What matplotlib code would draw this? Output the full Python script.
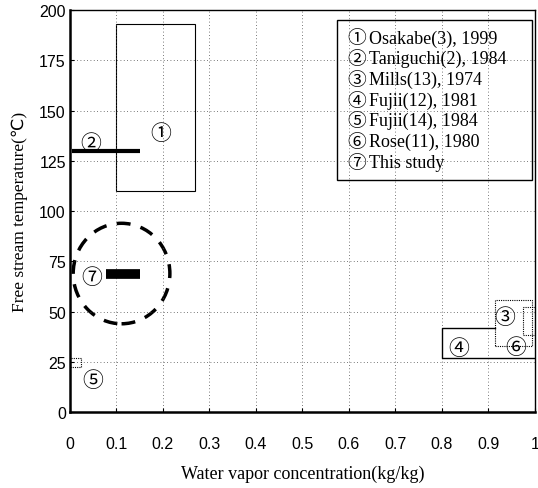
import matplotlib.pyplot as plt
from matplotlib.patches import Rectangle, Ellipse

# Regions (x0, x1, y0, y1)
osakabe_box = (0.10, 0.27, 110, 193)
mills_box = (0.915, 0.995, 33, 56)
rose_box = (0.975, 1.0, 38.5, 52.5)
fujii14_box = (0.0, 0.024, 22.5, 27)
fujii12_x = [1.0, 0.80, 0.80, 0.915]
fujii12_y = [27, 27, 42, 42]

# Taniguchi line and this study
taniguchi_x = [0.005, 0.15]
taniguchi_y = [130, 130]
study_x = [0.077, 0.15]
study_y = [69, 69]
study_circle = (0.111, 69, 0.104, 25)  # centre x, centre y, radius x, radius y

# Circled labels
label_text = ['①', '②', '③', '④', '⑤', '⑥', '⑦']
label_x = [0.195, 0.045, 0.935, 0.836, 0.05, 0.96, 0.047]
label_y = [139, 134, 47.5, 32, 16, 32.5, 67.5]

legend_marks = ['①', '②', '③', '④', '⑤', '⑥', '⑦']
legend_names = ['Osakabe(3), 1999', 'Taniguchi(2), 1984', 'Mills(13), 1974',
                'Fujii(12), 1981', 'Fujii(14), 1984', 'Rose(11), 1980',
                'This study']

xticks = [0, 0.1, 0.2, 0.3, 0.4, 0.5, 0.6, 0.7, 0.8, 0.9, 1]
xticklabels = ['0', '0.1', '0.2', '0.3', '0.4', '0.5', '0.6', '0.7', '0.8', '0.9', '1']
yticks = [0, 25, 50, 75, 100, 125, 150, 175, 200]

serif = ['Liberation Serif', 'DejaVu Sans']
circ = ['Noto Sans CJK JP', 'DejaVu Sans']

fig = plt.figure(figsize=(5.38, 4.89), dpi=100)
ax = fig.add_axes([0.130, 0.155, 0.864, 0.822])

ax.set_xlim(0, 1)
ax.set_ylim(0, 200)
ax.set_xticks(xticks)
ax.set_xticklabels(xticklabels, family='Liberation Sans', fontsize=11.5)
ax.set_yticks(yticks)
ax.set_yticklabels([str(v) for v in yticks], family='Liberation Sans', fontsize=11.5)
ax.tick_params(direction='in', length=3, width=0.8)
ax.tick_params(axis='x', pad=17)
ax.tick_params(axis='y', pad=3)
ax.grid(True, linestyle=(0, (1, 3)), color='0.3', linewidth=0.6)
for s in ax.spines.values():
    s.set_linewidth(1.0)
ax.spines['left'].set_linewidth(1.8)
ax.spines['bottom'].set_linewidth(1.8)

# solid and dotted boxes
x0, x1, y0, y1 = osakabe_box
ax.add_patch(Rectangle((x0, y0), x1 - x0, y1 - y0, fill=False, ec='black', lw=0.8))
for box in (mills_box, rose_box, fujii14_box):
    x0, x1, y0, y1 = box
    ax.add_patch(Rectangle((x0, y0), x1 - x0, y1 - y0, fill=False, ec='black',
                           lw=0.8, linestyle=(0, (1, 1))))
ax.plot(fujii12_x, fujii12_y, color='black', lw=1.0)

ax.plot(taniguchi_x, taniguchi_y, color='black', lw=3, solid_capstyle='butt')
ax.plot(study_x, study_y, color='black', lw=7, solid_capstyle='butt')
cx, cy, rx, ry = study_circle
ax.add_patch(Ellipse((cx, cy), 2 * rx, 2 * ry, fill=False, ec='black', lw=2.5,
                     linestyle=(0, (4, 3))))

for t, x, y in zip(label_text, label_x, label_y):
    ax.text(x, y, t, family=circ, fontsize=15, ha='center', va='center')

# legend box
ax.add_patch(Rectangle((0.574, 0.577), 0.42, 0.398, transform=ax.transAxes,
                       fill=False, ec='black', lw=1.0, zorder=5))
for i, (m, name) in enumerate(zip(legend_marks, legend_names)):
    yy = 0.931 - i * 0.0515
    ax.text(0.618, yy, m, transform=ax.transAxes, family=circ,
            fontsize=13.5, ha='center', va='center')
    ax.text(0.644, yy, name, transform=ax.transAxes, family=serif,
            fontsize=13, ha='left', va='center')

ax.set_xlabel('Water vapor concentration(kg/kg)', family=serif, fontsize=13, labelpad=10)
ax.set_ylabel('Free stream temperature(℃)', family=serif, fontsize=12.5, labelpad=8)

plt.savefig('out.png', dpi=100)
